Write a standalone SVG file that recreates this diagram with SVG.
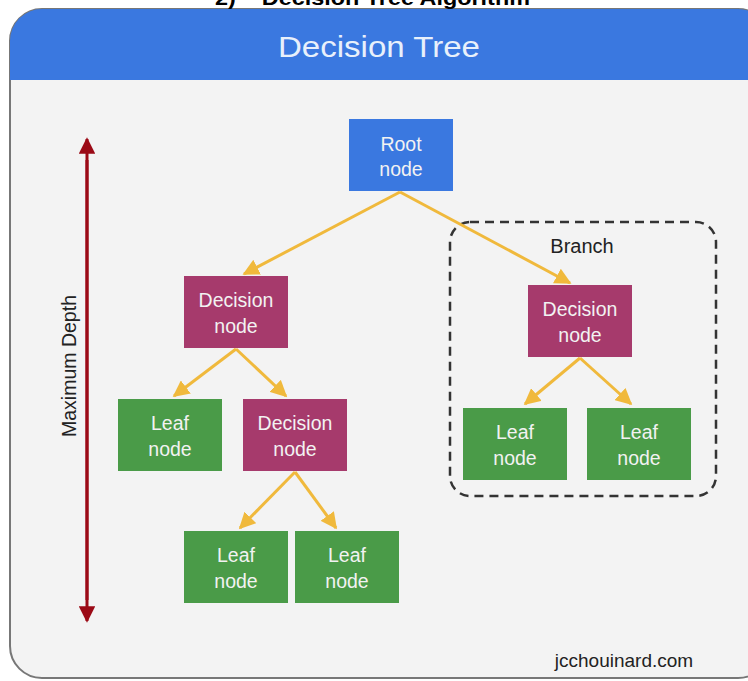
<svg xmlns="http://www.w3.org/2000/svg" width="748" height="681" viewBox="0 0 748 681">
<defs>
<style>
.t{font-family:"Liberation Sans",Arial,sans-serif;}
.nt{font-family:"Liberation Sans",Arial,sans-serif;font-size:19.5px;fill:#f2f2f2;text-anchor:middle;}
.blue{fill:#3a78e0;}
.dec{fill:#a63a6c;}
.leaf{fill:#4a9b48;}
.con{stroke:#f0b93c;stroke-width:3;fill:none;marker-end:url(#ah);}
</style>
<marker id="ah" viewBox="0 0 10 10" refX="9" refY="5" markerWidth="5.5" markerHeight="5.5" orient="auto">
<path d="M0,0 L10,5 L0,10 z" fill="#f0b93c"/>
</marker>
<marker id="rh" viewBox="0 0 10 10" refX="9" refY="5" markerWidth="6" markerHeight="5.5" orient="auto">
<path d="M0,0 L10,5 L0,10 z" fill="#9b0a16"/>
</marker>
<clipPath id="card"><rect x="10" y="9" width="760" height="669" rx="32"/></clipPath>
</defs>
<rect width="748" height="681" fill="#ffffff"/>
<g id="card-bg">
<rect x="10" y="9" width="760" height="669" rx="32" fill="#f3f3f3" stroke="#777" stroke-width="2"/>
<rect x="10" y="9" width="760" height="71" fill="#3a78e0" clip-path="url(#card)"/>
<text x="379" y="57" class="t" font-size="30" fill="#e8f0fb" text-anchor="middle" textLength="202" lengthAdjust="spacingAndGlyphs">Decision Tree</text>
</g>
<text x="215" y="5" class="t" font-size="21" font-weight="bold" fill="#000" xml:space="preserve" textLength="315" lengthAdjust="spacingAndGlyphs">2)    Decision Tree Algorithm</text>
<g id="depth">
<line x1="87" y1="600" x2="87" y2="139" stroke="#9b0a16" stroke-width="3" marker-end="url(#rh)"/>
<line x1="87" y1="160" x2="87" y2="621" stroke="#9b0a16" stroke-width="3" marker-end="url(#rh)"/>
<text transform="translate(76,366) rotate(-90)" class="t" font-size="19.5" fill="#222" text-anchor="middle">Maximum Depth</text>
</g>
<g id="branch">
<rect x="450" y="222" width="266" height="274" rx="20" fill="none" stroke="#333" stroke-width="2.5" stroke-dasharray="9,6"/>
<text x="582" y="253" class="t" font-size="20" fill="#222" text-anchor="middle">Branch</text>
</g>
<g id="connectors">
<line class="con" x1="400" y1="192" x2="244" y2="274"/>
<line class="con" x1="400" y1="192" x2="570" y2="283"/>
<line class="con" x1="236" y1="349" x2="174" y2="396"/>
<line class="con" x1="236" y1="349" x2="286" y2="396"/>
<line class="con" x1="295" y1="472" x2="240" y2="528"/>
<line class="con" x1="295" y1="472" x2="336" y2="528"/>
<line class="con" x1="580" y1="358" x2="525" y2="404"/>
<line class="con" x1="580" y1="358" x2="631" y2="404"/>
</g>
<g id="root"><rect class="blue" x="349" y="119" width="104" height="72"/><text class="nt" x="401" y="151">Root</text><text class="nt" x="401" y="176">node</text></g>
<g id="decision1"><rect class="dec" x="184" y="276" width="104" height="72"/><text class="nt" x="236" y="307">Decision</text><text class="nt" x="236" y="333">node</text></g>
<g id="decision2"><rect class="dec" x="528" y="285" width="104" height="72"/><text class="nt" x="580" y="316">Decision</text><text class="nt" x="580" y="342">node</text></g>
<g id="decision3"><rect class="dec" x="243" y="399" width="104" height="72"/><text class="nt" x="295" y="430">Decision</text><text class="nt" x="295" y="456">node</text></g>
<g id="leaf1"><rect class="leaf" x="118" y="399" width="104" height="72"/><text class="nt" x="170" y="430">Leaf</text><text class="nt" x="170" y="456">node</text></g>
<g id="leaf2"><rect class="leaf" x="184" y="531" width="104" height="72"/><text class="nt" x="236" y="562">Leaf</text><text class="nt" x="236" y="588">node</text></g>
<g id="leaf3"><rect class="leaf" x="295" y="531" width="104" height="72"/><text class="nt" x="347" y="562">Leaf</text><text class="nt" x="347" y="588">node</text></g>
<g id="leaf4"><rect class="leaf" x="463" y="408" width="104" height="72"/><text class="nt" x="515" y="439">Leaf</text><text class="nt" x="515" y="465">node</text></g>
<g id="leaf5"><rect class="leaf" x="587" y="408" width="104" height="72"/><text class="nt" x="639" y="439">Leaf</text><text class="nt" x="639" y="465">node</text></g>
<text x="624" y="667" class="t" font-size="19" fill="#222" text-anchor="middle">jcchouinard.com</text>
</svg>
